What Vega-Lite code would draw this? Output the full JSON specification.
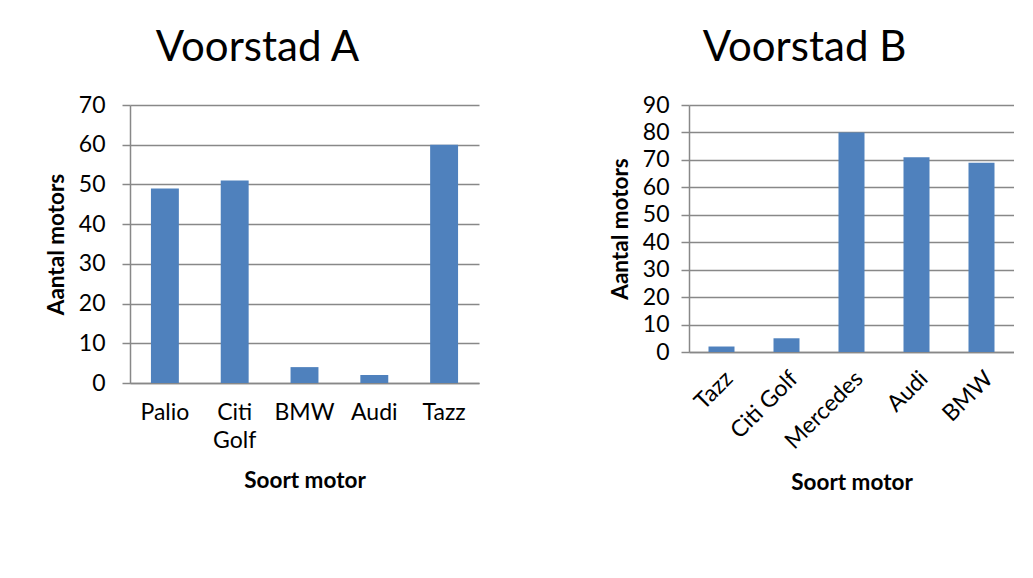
{
  "$schema": "https://vega.github.io/schema/vega-lite/v6.json",
  "background": "white",
  "padding": {"left": 45, "top": 27, "right": 0, "bottom": 0},
  "spacing": 130,
  "config": {
    "font": "Lato",
    "view": {"stroke": null},
    "axis": {
      "labelFont": "Lato",
      "labelFontSize": 23,
      "labelColor": "#000000",
      "titleFont": "Lato",
      "titleFontSize": 22.5,
      "titleFontWeight": "bold",
      "titleColor": "#000000",
      "domainColor": "#888888",
      "gridColor": "#888888",
      "tickColor": "#888888",
      "domainWidth": 1.5,
      "gridWidth": 1.5,
      "tickWidth": 1.5
    },
    "title": {"font": "Lato", "fontSize": 42, "fontWeight": "normal", "color": "#000000", "frame": "group", "anchor": "middle", "offset": 24}
  },
  "hconcat": [
    {
      "title": {"text": "Voorstad A", "dx": -47},
      "width": 349,
      "height": 278,
      "data": {"values": [
        {"motor": "Palio", "aantal": 49},
        {"motor": "Citi Golf", "aantal": 51},
        {"motor": "BMW", "aantal": 4},
        {"motor": "Audi", "aantal": 2},
        {"motor": "Tazz", "aantal": 60}
      ]},
      "mark": {"type": "bar", "color": "#4F81BD"},
      "encoding": {
        "x": {
          "field": "motor", "type": "nominal", "sort": null,
          "scale": {"paddingInner": 0.6, "paddingOuter": 0.3},
          "axis": {
            "title": "Soort motor", "labelAngle": 0, "ticks": false, "labelPadding": 18, "titlePadding": 17,
            "labelLineHeight": 28,
            "labelExpr": "datum.value == 'Citi Golf' ? ['Citi', 'Golf'] : datum.value"
          }
        },
        "y": {
          "field": "aantal", "type": "quantitative",
          "scale": {"domain": [0, 70]},
          "axis": {"title": "Aantal motors", "values": [0, 10, 20, 30, 40, 50, 60, 70], "tickSize": 8, "labelPadding": 17, "titlePadding": 10}
        }
      }
    },
    {
      "title": {"text": "Voorstad B", "dx": -47},
      "width": 325,
      "height": 247,
      "data": {"values": [
        {"motor": "Tazz", "aantal": 2},
        {"motor": "Citi Golf", "aantal": 5},
        {"motor": "Mercedes", "aantal": 80},
        {"motor": "Audi", "aantal": 71},
        {"motor": "BMW", "aantal": 69}
      ]},
      "mark": {"type": "bar", "color": "#4F81BD"},
      "encoding": {
        "x": {
          "field": "motor", "type": "nominal", "sort": null,
          "scale": {"paddingInner": 0.6, "paddingOuter": 0.3},
          "axis": {"title": "Soort motor", "labelAngle": -45, "ticks": false, "labelPadding": 15, "titlePadding": 18}
        },
        "y": {
          "field": "aantal", "type": "quantitative",
          "scale": {"domain": [0, 90]},
          "axis": {"title": "Aantal motors", "values": [0, 10, 20, 30, 40, 50, 60, 70, 80, 90], "tickSize": 8, "labelPadding": 12, "titlePadding": 10}
        }
      }
    }
  ]
}
